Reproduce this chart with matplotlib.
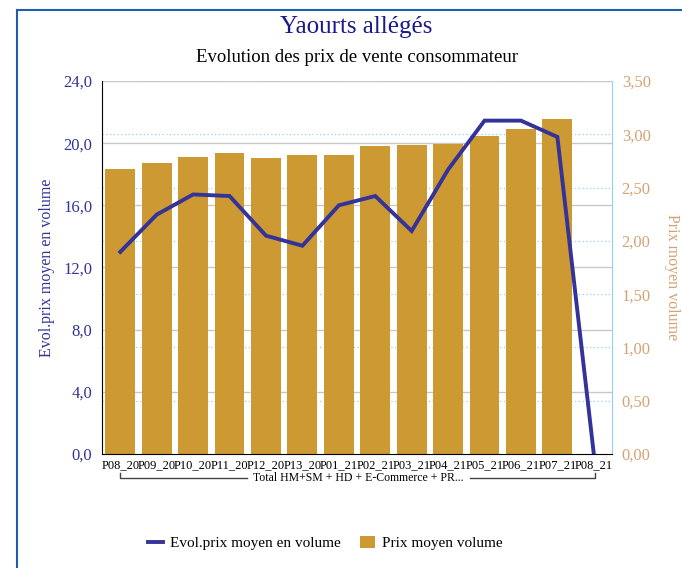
import matplotlib.pyplot as plt
from matplotlib.lines import Line2D
from matplotlib.patches import Patch

plt.rcParams['font.family'] = ['Liberation Serif', 'DejaVu Serif']

periods = ["P08_20", "P09_20", "P10_20", "P11_20", "P12_20", "P13_20", "P01_21",
           "P02_21", "P03_21", "P04_21", "P05_21", "P06_21", "P07_21", "P08_21"]
prix_moyen = [2.67, 2.73, 2.79, 2.82, 2.78, 2.81, 2.81, 2.89, 2.90, 2.91, 2.98, 3.05, 3.14, 0.0]
evol_prix = [13.0, 15.4, 16.7, 16.6, 14.05, 13.4, 16.0, 16.6, 14.35, 18.3, 21.45, 21.45, 20.4, 0.0]

left_ticks = [0, 4, 8, 12, 16, 20, 24]
right_ticks = [0, 0.5, 1.0, 1.5, 2.0, 2.5, 3.0, 3.5]

navy = "#333399"
gold = "#cc9933"
tan = "#d4a373"
blue_grid = "#99ccff"

fig = plt.figure(figsize=(6.82, 5.68), dpi=100)
ax = fig.add_axes([0.1496, 0.2007, 0.7478, 0.6567])
ax2 = ax.twinx()

x = list(range(len(periods)))

# bars on the right axis, both grids behind them
ax2.bar(x, prix_moyen, width=0.82, color=gold, zorder=3)
ax2.set_ylim(0, 3.5)
for v in right_ticks[1:]:
    ax2.axhline(v, color=blue_grid, linestyle=(0, (1, 2)), linewidth=0.9, zorder=1)
for v in left_ticks[1:]:
    ax2.axhline(v * 3.5 / 24, color="#c8c8c8", linewidth=1.0, zorder=1)
ax2.set_yticks(right_ticks)
ax2.set_yticklabels([f"{v:.2f}".replace(".", ",") for v in right_ticks], color=tan, fontsize=12)
ax2.set_ylabel("Prix moyen volume", color=tan, fontsize=11.5, rotation=270)
ax2.yaxis.set_label_coords(1.133, 0.475)
ax2.tick_params(axis="y", length=0, pad=7)

# line on the left axis
ax.set_zorder(ax2.get_zorder() + 1)
ax.patch.set_visible(False)
ax.plot(x, evol_prix, color=navy, linewidth=2.8, zorder=4, solid_joinstyle="miter")
ax.set_ylim(0, 24)
ax.set_yticks(left_ticks)
ax.set_yticklabels([f"{v:.1f}".replace(".", ",") for v in left_ticks], color=navy, fontsize=12)
ax.set_ylabel("Evol.prix moyen en volume", color=navy, fontsize=11.5, labelpad=6)
ax.tick_params(axis="y", length=0, pad=7)
ax.set_xlim(-0.5, len(periods) - 0.5)
ax.set_xticks(x)
ax.set_xticklabels(periods, fontsize=9)
ax.tick_params(axis="x", length=0, pad=4)

for a in (ax, ax2):
    a.spines["top"].set_visible(False)
ax.spines["left"].set_color("black")
ax.spines["bottom"].set_color("black")
ax.spines["right"].set_visible(False)
ax2.spines["left"].set_visible(False)
ax2.spines["bottom"].set_visible(False)
ax2.spines["right"].set_color(blue_grid)

# group bracket under the tick labels
by = 1 - 478 / 568
bx0, bx1 = 120 / 682, 595 / 682
fig.add_artist(Line2D([bx0, bx0, 247 / 682], [by + 0.008, by, by], color="#444444", lw=1))
fig.add_artist(Line2D([470 / 682, bx1, bx1], [by, by, by + 0.008], color="#444444", lw=1))
fig.text(358 / 682, by, "Total HM+SM + HD + E-Commerce + PR...", fontsize=8.5,
         ha="center", va="center")

# titles
fig.text(0.523, 1 - 27 / 568, "Yaourts allégés", fontsize=18, color="#1a1a8c",
         ha="center", va="center")
fig.text(0.523, 1 - 57 / 568, "Evolution des prix de vente consommateur", fontsize=13.5,
         ha="center", va="center")

# legend
handles = [Line2D([0], [0], color=navy, lw=2.8),
           Patch(facecolor=gold)]
fig.legend(handles, ["Evol.prix moyen en volume", "Prix moyen volume"],
           loc="center", bbox_to_anchor=(0.477, 1 - 543 / 568), ncol=2, frameon=False,
           fontsize=11, handlelength=1.0, handleheight=0.9, handletextpad=0.5,
           columnspacing=1.2)

# frame of the chart
fig.add_artist(Line2D([17 / 682, 17 / 682], [0, 1 - 10 / 568], color="#1f5fa8", lw=1.5))
fig.add_artist(Line2D([17 / 682, 1], [1 - 10 / 568, 1 - 10 / 568], color="#1f5fa8", lw=1.5))

fig.savefig("out.png", dpi=100)
